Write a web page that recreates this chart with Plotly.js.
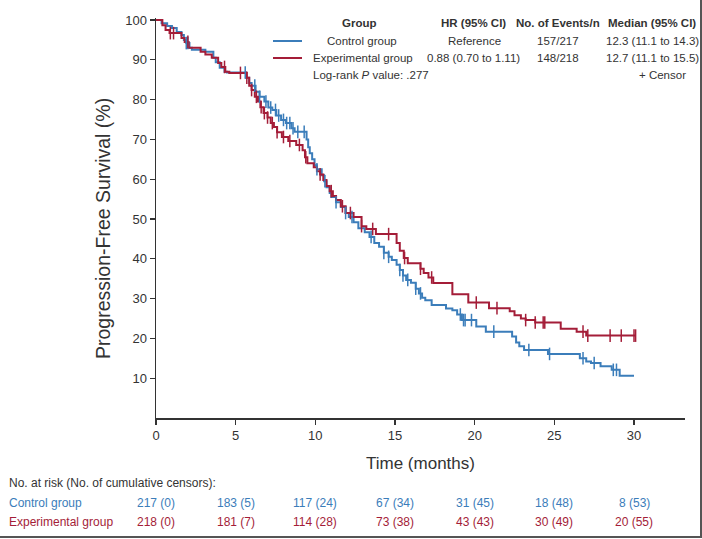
<!DOCTYPE html>
<html>
<head>
<meta charset="utf-8">
<script src="https://cdn.plot.ly/plotly-3.0.1.min.js"></script>
<style>html,body{margin:0;padding:0;background:#fff;}#chart{width:702px;height:539px;}</style>
</head>
<body>
<div id="chart"></div>
<script>
// ---- Data ----
const ctrlTime = [0,0.35,0.7,1.0,1.3,1.6,1.75,1.9,2.1,2.25,3.1,3.6,3.75,4.0,4.3,4.45,5.65,5.85,6.0,6.25,6.5,6.8,7.05,7.3,7.55,7.85,8.15,8.5,8.7,9.45,9.55,9.65,9.8,9.95,10.1,10.4,10.55,10.7,10.9,11.0,11.3,11.6,11.9,12.1,12.4,12.7,13.1,13.4,13.7,14.0,14.3,14.6,14.8,15.1,15.3,15.5,15.7,16.0,16.3,16.5,16.7,16.9,17.3,18.2,18.6,18.9,19.2,20.1,20.7,22.35,22.6,22.8,23.1,24.6,26.6,27.0,27.3,27.9,28.6,29.1,30.0];
const ctrlSurv = [100,99.2,98.5,98,97,96.2,95,94.2,93,92.5,92,90.5,89.4,88,87,86.8,85.5,84.2,83.5,82,80.7,79.5,78,77.4,76,74.9,74.1,72.8,71.9,70,68,66.5,65,63.5,62.5,61,59.5,58,56.5,55.5,54.2,53,51.5,50.5,49.2,47.7,46.7,45.5,44,43,41.5,40.5,39.7,38.5,37.2,35.8,34.7,34,32.5,31.3,30.2,29.6,28.4,27.5,27.1,26,24.6,23.0,21.7,20.5,19,18,17.1,16.1,15.0,14.2,13.8,13.0,12.1,10.6,10.6];
const expTime = [0,0.4,0.6,0.85,1.6,1.8,2.05,2.8,3.1,3.5,3.9,4.1,4.35,4.6,5.7,5.85,6.0,6.2,6.4,6.55,6.75,7.0,7.2,7.4,7.6,7.9,8.3,8.8,9.2,9.35,9.5,9.9,10.1,10.3,10.5,10.7,10.9,11.1,11.3,11.6,11.9,12.4,12.9,13.2,13.8,15.1,15.3,15.55,15.8,16.6,16.8,17.1,17.4,18.6,19.6,20.9,22.2,22.5,22.9,23.2,23.8,25.4,26.4,27.0,30.1];
const expSurv = [100,98.7,97.5,96.7,95.5,94.5,93,92,91.3,90.5,89.2,88.2,87,86.7,85.5,83.5,82.4,80.7,79.5,78.1,76.6,75.5,74.1,73.1,71.8,70.6,69.6,68.6,67.3,65.5,64,63,62,61.2,59.8,58.3,57,55.8,54.8,53.2,51.5,50.5,48.2,47.5,46.2,44,42,40.2,38.9,37.5,36.4,35.3,33.9,31.1,29.0,27.6,26.8,25.8,25,24.6,24.0,22.4,21.7,20.7,20.7];
const ctrlCensor = [1.9,2.0,5.6,6.2,6.5,6.9,7.2,7.5,7.7,8.0,8.2,8.4,8.6,8.9,9.3,10.1,10.6,11.3,11.9,12.3,13.5,14.3,14.6,15.3,15.5,15.8,16.3,16.6,19.1,19.3,19.4,19.8,21.2,23.4,24.7,26.8,27.5,28.7,28.9];
const expCensor = [0.9,1.1,2.0,4.3,5.3,5.7,6.0,6.3,6.6,6.8,7.0,7.3,7.6,8.0,8.4,9.0,9.4,10.3,11.0,11.7,12.2,12.9,13.6,14.6,15.6,16.6,17.3,20.1,21.4,23.2,23.8,24.3,24.4,26.8,27.1,28.5,29.2,30.0,30.1];

const riskTimes = [0,5,10,15,20,25,30];
const ctrlRisk = ["217 (0)","183 (5)","117 (24)","67 (34)","31 (45)","18 (48)","8 (53)"];
const expRisk  = ["218 (0)","181 (7)","114 (28)","73 (38)","43 (43)","30 (49)","20 (55)"];

const legendHeader = ["Group","HR (95% CI)","No. of Events/n","Median (95% CI)"];
const ctrlRow = ["Control group","Reference","157/217","12.3 (11.1 to 14.3)"];
const expRow  = ["Experimental group","0.88 (0.70 to 1.11)","148/218","12.7 (11.1 to 15.5)"];

const BLUE = "#3b7dba", RED = "#a41d38", TXT = "#333333";

function stepAt(times, surv, t){
  let v = surv[0];
  for (let i = 0; i < times.length; i++){ if (times[i] <= t + 1e-9) v = surv[i]; }
  return v;
}

// ---- geometry helpers (pixel -> paper) ----
const L = 156, R = 685, B = 418, H = 400;
const px = x => (x - L) / (R - L);
const py = y => (B - y) / H;

const traces = [
  {x: ctrlTime, y: ctrlSurv, mode: "lines", line: {shape: "hv", color: BLUE, width: 2}, hoverinfo: "skip"},
  {x: expTime, y: expSurv, mode: "lines", line: {shape: "hv", color: RED, width: 2}, hoverinfo: "skip"},
  {x: ctrlCensor, y: ctrlCensor.map(t => stepAt(ctrlTime, ctrlSurv, t)), mode: "markers",
   marker: {symbol: "line-ns-open", size: 9, color: BLUE, line: {color: BLUE, width: 1.5}}, hoverinfo: "skip"},
  {x: expCensor, y: expCensor.map(t => stepAt(expTime, expSurv, t)), mode: "markers",
   marker: {symbol: "line-ns-open", size: 9, color: RED, line: {color: RED, width: 1.5}}, hoverinfo: "skip"}
];

const F = "Liberation Sans, Arial, sans-serif";
const ann = [];
const colX = [359, 473, 558, 652];
legendHeader.forEach((s, i) => ann.push({xref:"paper", yref:"paper", x: px(colX[i]), y: py(23), text: "<b>" + s + "</b>", showarrow:false, xanchor:"center", yanchor:"middle", font:{family:F, size:11.5, color:TXT}}));
const rowX = [362, 474, 558, 652];
ctrlRow.forEach((s, i) => ann.push({xref:"paper", yref:"paper", x: px(rowX[i]), y: py(41), text: s, showarrow:false, xanchor:"center", yanchor:"middle", font:{family:F, size:11.5, color:TXT}}));
const row2X = [363, 473, 558, 652];
expRow.forEach((s, i) => ann.push({xref:"paper", yref:"paper", x: px(row2X[i]), y: py(58), text: s, showarrow:false, xanchor:"center", yanchor:"middle", font:{family:F, size:11.5, color:TXT}}));
ann.push({xref:"paper", yref:"paper", x: px(311), y: py(75), text: "Log-rank <i>P</i> value: .277", showarrow:false, xanchor:"left", yanchor:"middle", font:{family:F, size:11.5, color:TXT}});
ann.push({xref:"paper", yref:"paper", x: px(662), y: py(75), text: "+ Censor", showarrow:false, xanchor:"center", yanchor:"middle", font:{family:F, size:11.5, color:TXT}});

// axis titles
ann.push({xref:"paper", yref:"paper", x: px(103), y: py(229), text: "Progression-Free Survival (%)", textangle:-90, showarrow:false, xanchor:"center", yanchor:"middle", font:{family:F, size:19.5, color:TXT}});
ann.push({xref:"paper", yref:"paper", x: px(420), y: py(463), text: "Time (months)", showarrow:false, xanchor:"center", yanchor:"middle", font:{family:F, size:17, color:TXT}});

// risk table
ann.push({xref:"paper", yref:"paper", x: px(7), y: py(483), text: "No. at risk (No. of cumulative censors):", showarrow:false, xanchor:"left", yanchor:"middle", font:{family:F, size:12, color:TXT}});
ann.push({xref:"paper", yref:"paper", x: px(7), y: py(503), text: "Control group", showarrow:false, xanchor:"left", yanchor:"middle", font:{family:F, size:12, color:BLUE}});
ann.push({xref:"paper", yref:"paper", x: px(7), y: py(522), text: "Experimental group", showarrow:false, xanchor:"left", yanchor:"middle", font:{family:F, size:12, color:RED}});
riskTimes.forEach((t, i) => {
  ann.push({xref:"x", yref:"paper", x: t, y: py(503), text: ctrlRisk[i], showarrow:false, xanchor:"center", yanchor:"middle", font:{family:F, size:12, color:BLUE}});
  ann.push({xref:"x", yref:"paper", x: t, y: py(522), text: expRisk[i], showarrow:false, xanchor:"center", yanchor:"middle", font:{family:F, size:12, color:RED}});
});

const shapes = [
  {type:"line", xref:"paper", yref:"paper", x0: px(273), x1: px(302), y0: py(41), y1: py(41), line:{color:BLUE, width:2}},
  {type:"line", xref:"paper", yref:"paper", x0: px(273), x1: px(302), y0: py(58), y1: py(58), line:{color:RED, width:2}},
  {type:"line", xref:"paper", yref:"paper", x0: px(0), x1: px(702), y0: py(537), y1: py(537), line:{color:"#555", width:2}},
  {type:"line", xref:"paper", yref:"paper", x0: px(701), x1: px(701), y0: py(0), y1: py(538), line:{color:"#555", width:2}}
];

const layout = {
  width: 702, height: 539,
  margin: {l: L, r: 702 - R, t: B - H, b: 539 - B, pad: 0},
  paper_bgcolor: "#fff", plot_bgcolor: "#fff",
  showlegend: false,
  font: {family: F, color: TXT},
  xaxis: {range: [0, 33.2], tickvals: [0,5,10,15,20,25,30], ticks: "outside", ticklen: 5, tickwidth: 1.2, tickcolor: TXT,
          showline: true, linecolor: TXT, linewidth: 1.5, showgrid: false, zeroline: false,
          tickfont: {family: F, size: 13, color: TXT}, fixedrange: true},
  yaxis: {range: [0, 100.5], tickvals: [10,20,30,40,50,60,70,80,90,100], ticks: "outside", ticklen: 5, tickwidth: 1.2, tickcolor: TXT,
          showline: true, linecolor: TXT, linewidth: 1.5, showgrid: false, zeroline: false,
          tickfont: {family: F, size: 13, color: TXT}, fixedrange: true},
  annotations: ann,
  shapes: shapes
};

Plotly.newPlot("chart", traces, layout, {displayModeBar: false, staticPlot: true});
</script>
</body>
</html>
